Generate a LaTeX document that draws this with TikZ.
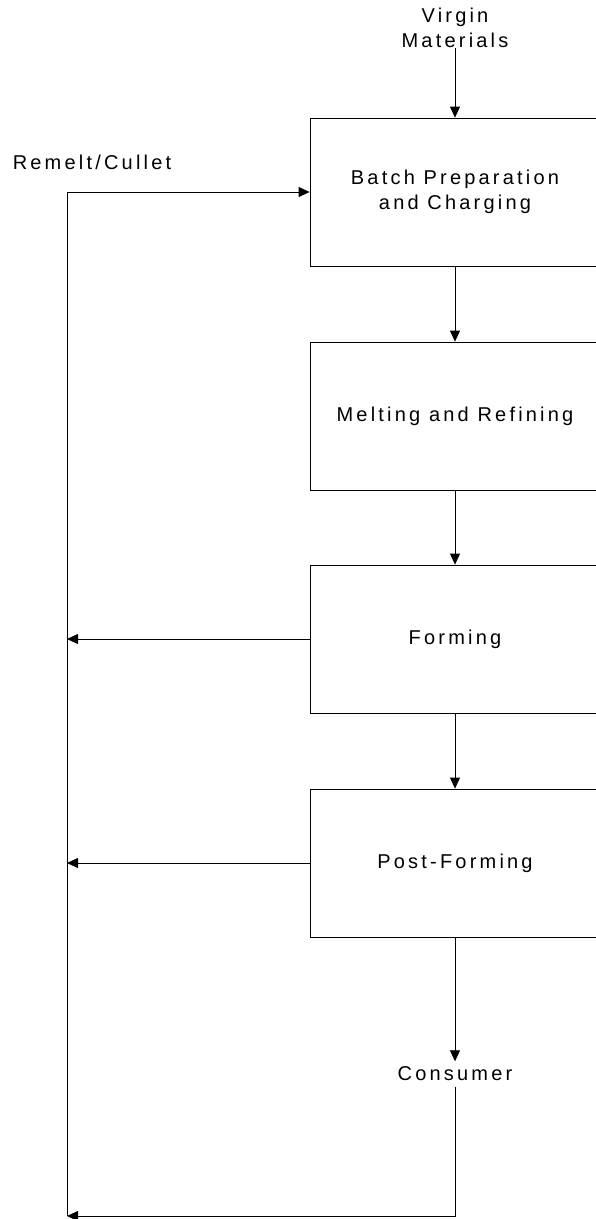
\documentclass[tikz,border=0pt]{standalone}
\usepackage{fontspec}
\setmainfont{Liberation Sans}[LetterSpace=16]
\usepackage{tikz}
\usetikzlibrary{%
  arrows.meta,%
  positioning,%
  shapes%
}
\tikzset{
  stage/.style={draw,rectangle,line width=0.8pt,minimum width=290pt,minimum height=148pt,align=center},
  flow/.style={draw,line width=0.8pt,-{Triangle[length=11pt,width=10pt]}},
  plain/.style={inner sep=0,align=center}
}
\begin{document}
\begin{tikzpicture}[x=1pt,y=-1pt,font=\fontsize{20}{25.5}\selectfont]
      \useasboundingbox (0,0) rectangle (596,1219);
      \clip (0,0) rectangle (596,1219);
      \node[plain] (vm) at (455,28) {Virgin\\Materials};
      \node[stage] (batch) at (455,192) {Batch Preparation\\and Charging};
      \node[stage] (melt) at (455,416) {Melting and Refining};
      \node[stage] (form) at (455,639) {Forming};
      \node[stage] (post) at (455,863) {Post-Forming};
      \node[plain,minimum height=25pt] (cons) at (455,1074) {Consumer};
      \node[plain] (remelt) at (92,162) {Remelt/Cullet};
      \coordinate (top) at (67,192);
      \coordinate (bot) at (67,1216);
      \coordinate (f) at (67,639);
      \coordinate (pf) at (67,863);

      \path [flow] (vm) -- (batch);
      \path [flow] (batch) -- (melt);
      \path [flow] (melt) -- (form);
      \path [flow] (form) -- (post);
      \path [flow] (post) -- (cons);
      \path [flow] (cons) |- (bot);
      \path [flow] (bot) -- (top) -- (batch);
      \path [flow] (form) -- (f);
      \path [flow] (post) -- (pf);
    \end{tikzpicture}
\end{document}
